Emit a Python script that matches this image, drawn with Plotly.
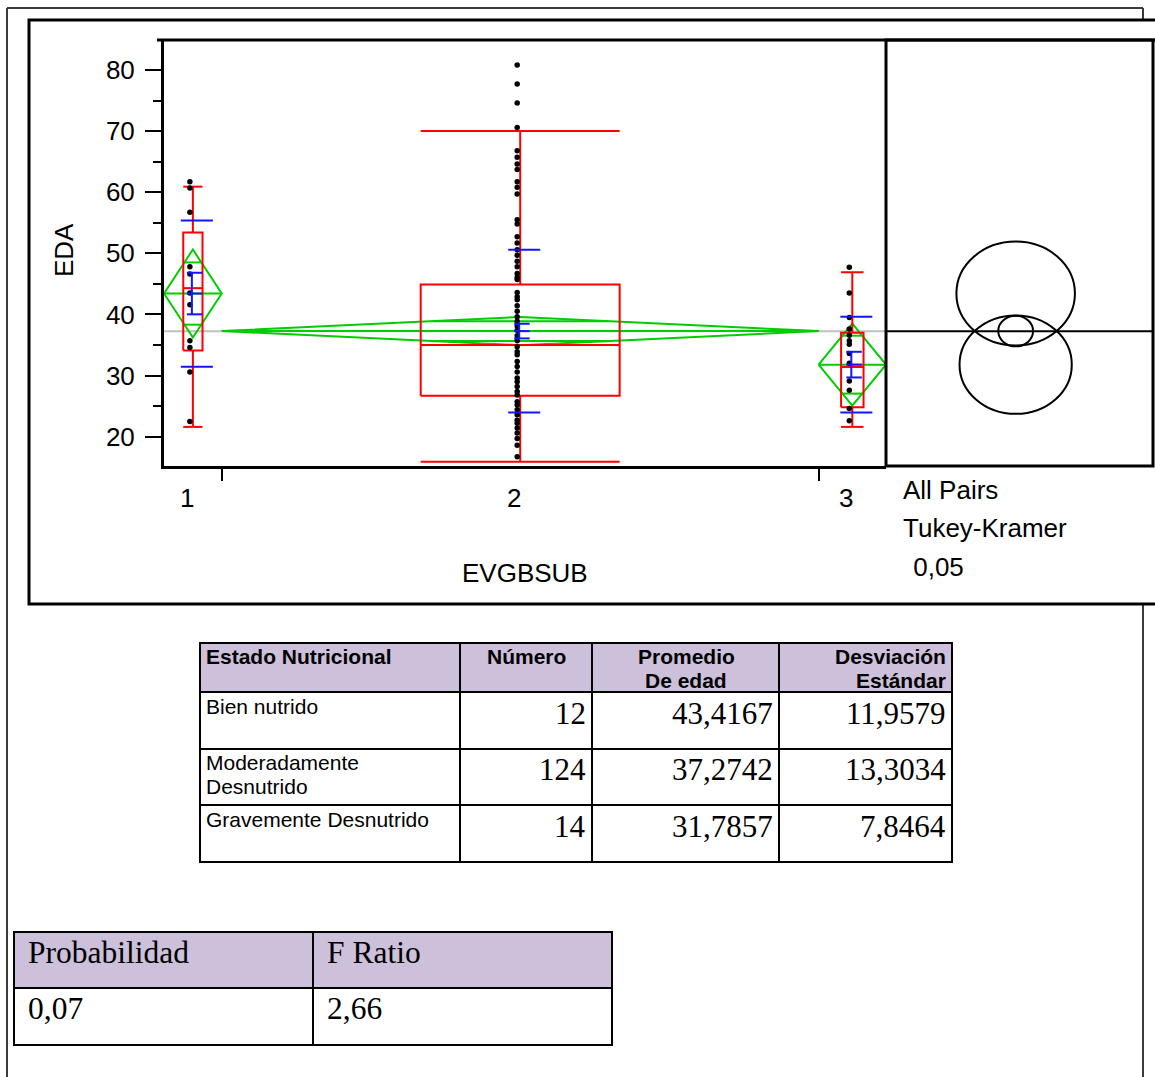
import math
import plotly.graph_objects as go

W, H = 1155, 1077

# ---------------- data ----------------
groups = ["1", "2", "3"]
counts = [12, 124, 14]
means = [43.4167, 37.2742, 31.7857]
std_devs = [11.9579, 13.3034, 7.8464]
std_errs = [3.4, 1.2, 2.1]
ci_half = [7.2, 2.3, 6.7]
q1 = [34.1, 26.7, 24.8]
medians = [44.3, 35.0, 31.4]
q3 = [53.4, 44.9, 37.0]
whisker_low = [21.6, 15.9, 21.6]
whisker_high = [60.9, 70.0, 46.9]
grand_mean = 37.25
circle_radius = [8.5, 2.5, 8.05]

ages_g1 = [61.7, 60.7, 56.7, 47.8, 46.6, 43.5, 41.6, 35.7, 34.6, 30.6, 22.5]
ages_g2 = [80.8, 77.7, 74.6, 70.6, 66.8, 65.7, 64.6, 63.7, 61.7, 60.8, 59.7, 55.5,
           54.8, 52.7, 51.7, 50.6, 49.7, 48.7, 47.8, 46.7, 46.1, 45.7, 43.6, 42.9,
           42.4, 41.4, 40.5, 39.6, 38.9, 38.1, 37.4, 36.5, 35.7, 34.7, 33.9, 33.4,
           32.3, 31.5, 30.6, 29.6, 29.0, 28.2, 27.4, 26.8, 25.7, 25.2, 24.4, 23.6,
           22.7, 22.2, 21.4, 20.6, 19.7, 18.6, 16.7]
ages_g3 = [47.7, 43.5, 39.5, 37.6, 36.6, 35.7, 35.1, 33.6, 32.0, 29.1, 27.6, 24.6, 22.6]
ages = [ages_g1, ages_g2, ages_g3]

y_ticks = [20, 30, 40, 50, 60, 70, 80]
x_title = "EVGBSUB"
y_title = "EDA"
test_labels = ["All Pairs", "Tukey-Kramer", " 0,05"]

table_header = ["Estado Nutricional", "Número", "Promedio", "De edad", "Desviación", "Estándar"]
table_states = ["Bien nutrido", "Moderadamente", "Desnutrido", "Gravemente Desnutrido"]
table_n = ["12", "124", "14"]
table_mean = ["43,4167", "37,2742", "31,7857"]
table_sd = ["11,9579", "13,3034", "7,8464"]
anova_header = ["Probabilidad", "F Ratio"]
anova_values = ["0,07", "2,66"]

# ---------------- helpers ----------------
def px(x):
    return x / W

def py(y):
    return 1 - y / H

ARIAL = "Arial, Liberation Sans, sans-serif"
TIMES = "Times New Roman, Liberation Serif, serif"

X0_PX, X1_PX = 164, 886
TOTAL = sum(counts)
u = TOTAL / (X1_PX - X0_PX)  # data units per pixel on main x axis

GREEN = "rgb(0,205,0)"
RED = "rgb(255,0,0)"
BLUE = "rgb(20,20,255)"

edges = [0]
for c in counts:
    edges.append(edges[-1] + c)

gx, gy, rx, ry, bx, by = [], [], [], [], [], []
for i in range(3):
    L, R = edges[i], edges[i + 1]
    c = (L + R) / 2
    m, h = means[i], ci_half[i]
    # means diamond
    gx += [L, c, R, c, L, None, L, R, None]
    gy += [m, m + h, m, m - h, m, None, m, m, None]
    k = h / math.sqrt(2)
    hw = (R - L) / 2 * (1 - 1 / math.sqrt(2))
    gx += [c - hw, c + hw, None, c - hw, c + hw, None]
    gy += [m + k, m + k, None, m - k, m - k, None]
    # box plot
    bw = (R - L) / 3
    b0, b1 = c - bw / 2, c + bw / 2
    rx += [b0, b1, b1, b0, b0, None, b0, b1, None]
    ry += [q1[i], q1[i], q3[i], q3[i], q1[i], None, medians[i], medians[i], None]
    rx += [c, c, None, c, c, None, b0, b1, None, b0, b1, None]
    ry += [q3[i], whisker_high[i], None, q1[i], whisker_low[i], None,
           whisker_high[i], whisker_high[i], None, whisker_low[i], whisker_low[i], None]
    # std dev / std err lines
    sd, se = std_devs[i], std_errs[i]
    for yy in (m + sd, m - sd):
        bx += [c - 12 * u, c + 20 * u, None]
        by += [yy, yy, None]
    for yy in (m + se, m, m - se):
        bx += [c - 6 * u, c + 9.5 * u, None]
        by += [yy, yy, None]
    bx += [c - 1 * u, c - 1 * u, None]
    by += [m - se, m + se, None]

fig = go.Figure()
fig.add_trace(go.Scatter(x=gx, y=gy, mode="lines", line=dict(color=GREEN, width=2), hoverinfo="skip"))
fig.add_trace(go.Scatter(x=rx, y=ry, mode="lines", line=dict(color=RED, width=2), hoverinfo="skip"))
for i in range(3):
    c = (edges[i] + edges[i + 1]) / 2
    fig.add_trace(go.Scatter(x=[c - 3 * u] * len(ages[i]), y=ages[i], mode="markers",
                             marker=dict(color="black", size=5.5), hoverinfo="y"))
fig.add_trace(go.Scatter(x=bx, y=by, mode="lines", line=dict(color=BLUE, width=2), hoverinfo="skip"))
# invisible trace to anchor right panel axis
fig.add_trace(go.Scatter(x=[0], y=[grand_mean], xaxis="x2", yaxis="y", mode="markers",
                         marker=dict(size=1, color="rgba(0,0,0,0)"), hoverinfo="skip"))

shapes = []
def line(x0, y0, x1, y1, width=2, color="black", layer="above"):
    shapes.append(dict(type="line", xref="paper", yref="paper", x0=px(x0), y0=py(y0),
                       x1=px(x1), y1=py(y1), line=dict(color=color, width=width), layer=layer))

# outer border
line(7, 8, 1143, 8, 2, "#3a3a3a", "below")
line(7, 8, 7, 1080, 2, "#3a3a3a", "below")
line(1143, 8, 1143, 20, 2, "#3a3a3a", "below")
line(1143, 604, 1143, 1080, 2, "#3a3a3a", "below")
# chart frame
shapes.append(dict(type="rect", xref="paper", yref="paper", x0=px(29), y0=py(20), x1=px(1175), y1=py(604),
                   line=dict(color="black", width=3), fillcolor="white", layer="below"))
# plot frame top and right panel
line(157, 40, 1175, 40, 3)
shapes.append(dict(type="rect", xref="paper", yref="paper", x0=px(886), y0=py(40), x1=px(1153), y1=py(466),
                   line=dict(color="black", width=3), fillcolor="rgba(0,0,0,0)"))
# grand mean lines
shapes.append(dict(type="line", xref="x domain", yref="y", x0=0, x1=1, y0=grand_mean, y1=grand_mean,
                   line=dict(color="#C0C0C0", width=2), layer="below"))
shapes.append(dict(type="line", xref="x2 domain", yref="y", x0=0, x1=1, y0=grand_mean, y1=grand_mean,
                   line=dict(color="black", width=2)))
# comparison circles
for m, r in zip(means, circle_radius):
    shapes.append(dict(type="circle", xref="x2", yref="y", x0=-r, x1=r, y0=m - r, y1=m + r,
                       line=dict(color="black", width=2)))

# ---- table 1 ----
t1_cols = [200, 460, 592, 779, 952]
t1_rows = [643, 692, 749, 805, 862]
LAV = "#CCC0DA"
shapes.append(dict(type="rect", xref="paper", yref="paper", x0=px(t1_cols[0]), y0=py(t1_rows[0]),
                   x1=px(t1_cols[-1]), y1=py(t1_rows[1]), line=dict(width=0), fillcolor=LAV, layer="below"))
for yy in t1_rows:
    line(t1_cols[0] - 1, yy, t1_cols[-1] + 1, yy, 2)
for xx in t1_cols:
    line(xx, t1_rows[0], xx, t1_rows[-1], 2)
# ---- table 2 ----
t2_cols = [14, 313, 612]
t2_rows = [932, 988, 1045]
shapes.append(dict(type="rect", xref="paper", yref="paper", x0=px(t2_cols[0]), y0=py(t2_rows[0]),
                   x1=px(t2_cols[-1]), y1=py(t2_rows[1]), line=dict(width=0), fillcolor=LAV, layer="below"))
for yy in t2_rows:
    line(t2_cols[0] - 1, yy, t2_cols[-1] + 1, yy, 2)
for xx in t2_cols:
    line(xx, t2_rows[0], xx, t2_rows[-1], 2)

ann = []
def text(t, x, y, size, family=ARIAL, xanchor="left", angle=0, color="black"):
    ann.append(dict(text=t, xref="paper", yref="paper", x=px(x), y=py(y), xanchor=xanchor,
                    yanchor="middle", showarrow=False, textangle=angle, borderpad=0,
                    font=dict(family=family, size=size, color=color)))

# chart texts
for i, g in enumerate(groups):
    c = (edges[i] + edges[i + 1]) / 2
    ann.append(dict(text=g, xref="x", yref="paper", x=c, y=py(498), xanchor="center", yanchor="middle",
                    xshift=-6, showarrow=False, font=dict(family=ARIAL, size=26, color="black")))
text(x_title, 525, 573, 26, xanchor="center")
text(y_title, 64, 250, 26, xanchor="center", angle=-90)
text(test_labels[0], 902, 490, 26)
text(test_labels[1], 902, 528, 26)
text(test_labels[2], 905, 567, 26)

# table 1 texts
text("<b>%s</b>" % table_header[0], 205, 656, 21)
text("<b>%s</b>" % table_header[1], 526, 656, 21, xanchor="center")
text("<b>%s</b>" % table_header[2], 686, 656, 21, xanchor="center")
text("<b>%s</b>" % table_header[3], 686, 680, 21, xanchor="center")
text("<b>%s</b>" % table_header[4], 947, 656, 21, xanchor="right")
text("<b>%s</b>" % table_header[5], 947, 680, 21, xanchor="right")
text(table_states[0], 205, 706, 21)
text(table_states[1], 205, 762, 21)
text(table_states[2], 205, 786, 21)
text(table_states[3], 205, 819, 21)
row_centers = [713, 769, 826]
for i in range(3):
    text(table_n[i], 587, row_centers[i], 31, TIMES, "right")
    text(table_mean[i], 774, row_centers[i], 31, TIMES, "right")
    text(table_sd[i], 947, row_centers[i], 31, TIMES, "right")

# table 2 texts
text(anova_header[0], 27, 952, 31.5, TIMES)
text(anova_header[1], 326, 952, 31.5, TIMES)
text(anova_values[0], 27, 1008, 31.5, TIMES)
text(anova_values[1], 326, 1008, 31.5, TIMES)

fig.update_layout(
    width=W, height=H, autosize=False,
    margin=dict(l=0, r=0, t=0, b=0, pad=0),
    paper_bgcolor="white", plot_bgcolor="rgba(0,0,0,0)",
    showlegend=False,
    shapes=shapes, annotations=ann,
    xaxis=dict(domain=[px(X0_PX), px(X1_PX)], range=[0, TOTAL], showgrid=False, zeroline=False,
               showline=True, linecolor="black", linewidth=3,
               tickvals=edges[1:3], ticktext=["", ""], ticks="outside", ticklen=12,
               tickwidth=2, tickcolor="black", showticklabels=False, fixedrange=True),
    yaxis=dict(domain=[py(466), py(40)], range=[15.2, 84.9], showgrid=False, zeroline=False,
               showline=True, linecolor="black", linewidth=3,
               tickvals=y_ticks, ticks="outside", ticklen=16, tickwidth=2, tickcolor="black",
               tickfont=dict(family=ARIAL, size=26, color="black"), ticklabelstandoff=5,
               minor=dict(dtick=5, tick0=0, ticks="outside", ticklen=8, tickwidth=2,
                          tickcolor="black", showgrid=False), fixedrange=True),
    xaxis2=dict(domain=[px(886), px(1153)], range=[-18.6, 19.7], visible=False, anchor="y",
                fixedrange=True),
)

fig.write_html("out.html", config={"displayModeBar": False},
               post_script="document.body.style.margin='0';document.body.style.overflow='hidden';")
